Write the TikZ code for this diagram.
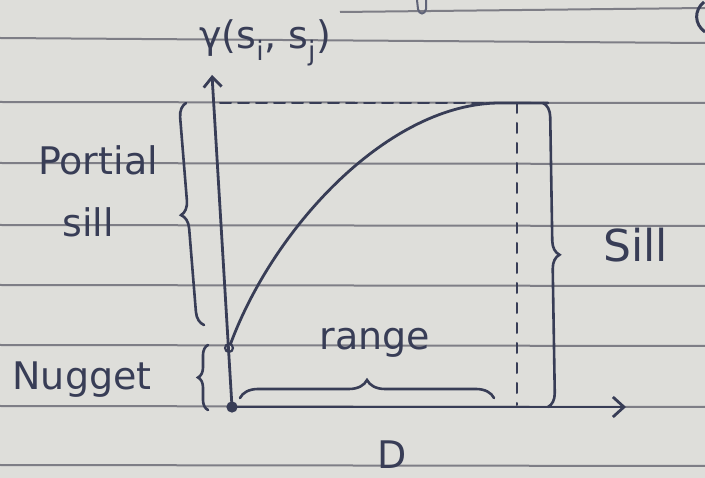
\documentclass[tikz,border=0pt]{standalone}
\usepackage{fontspec}
\setmainfont{DejaVu Sans}
\usetikzlibrary{decorations.pathreplacing,arrows.meta}
\definecolor{paper}{HTML}{DEDEDA}
\definecolor{rule}{HTML}{7E7E86}
\definecolor{ink}{HTML}{383D56}
\tikzset{
  ruled/.style={draw=rule, line width=2pt},
  pen/.style={draw=ink, line width=2.8pt, line cap=round},
  hand/.style={text=ink, inner sep=0pt, font=\fontsize{38}{42}\selectfont},
  bracepen/.style={draw=ink, line width=2.6pt, line cap=round, decorate, decoration={brace, amplitude=#1}},
}
\begin{document}
\begin{tikzpicture}[x=1pt,y=-1pt]
\fill[paper] (0,0) rectangle (705,478);
\useasboundingbox (0,0) rectangle (705,478);
% ruled lines of the paper
\draw[ruled] (340,12) -- (705,8);
\draw[ruled] (0,38) -- (705,43);
\foreach \yy in {102,163,225,285,345,406,465}
  \draw[ruled] (0,\yy) -- (705,\yy+1);
\draw[ink!80, line width=2pt] (417,0) -- (418,9) .. controls (419,15) and (425,15) .. (426,9) -- (426,0);
\draw[ink, line width=3pt] (704,2) .. controls (694,10) and (694,24) .. (705,32);
% axes
\coordinate (O) at (232,407);
\coordinate (Ytop) at (212,75);
\coordinate (Xend) at (626,407);
\node[circle, draw=ink, line width=2.2pt, fill=paper, inner sep=2.8pt] (N) at (229,348) {};
\node[circle, fill=ink, inner sep=4pt] (Odot) at (O) {};
\draw[pen, -{Straight Barb[length=10pt,width=18pt]}] (O) -- (Ytop);
\draw[pen, -{Straight Barb[length=11pt,width=20pt]}] (O) -- (Xend);
% sill level and range
\coordinate (S0) at (220,103);
\coordinate (S1) at (548,103);
\coordinate (R0) at (517,103);
\coordinate (R1) at (517,405);
\draw[pen, dash pattern=on 11pt off 7pt, line width=2pt] (S0) -- (S1);
\draw[pen, dash pattern=on 10pt off 10pt, line width=2pt] (R0) -- (R1);
% variogram curve
\draw[pen] (N) .. controls (275,225) and (390,103) .. (500,103) -- (S1);
% braces
\draw[bracepen=14pt] (543,103) -- (548,407);
\draw[bracepen=14pt] (204,325) -- (186,103);
\draw[bracepen=10pt] (208,410) -- (208,345);
\draw[bracepen=18pt] (240,398) -- (494,398);
% labels
\node[hand] (gam) at (265,43) {γ(s\textsubscript{i}, s\textsubscript{j})};
\node[hand, anchor=west, font=\fontsize{44}{48}\selectfont] (sill) at (603,245) {Sill};
\node[hand] (part1) at (98,160) {Portial};
\node[hand] (part2) at (88,222) {sill};
\node[hand] (nug) at (82,380) {Nugget};
\node[hand] (rng) at (375,343) {range};
\node[hand] (dd) at (392,455) {D};
\end{tikzpicture}
\end{document}
